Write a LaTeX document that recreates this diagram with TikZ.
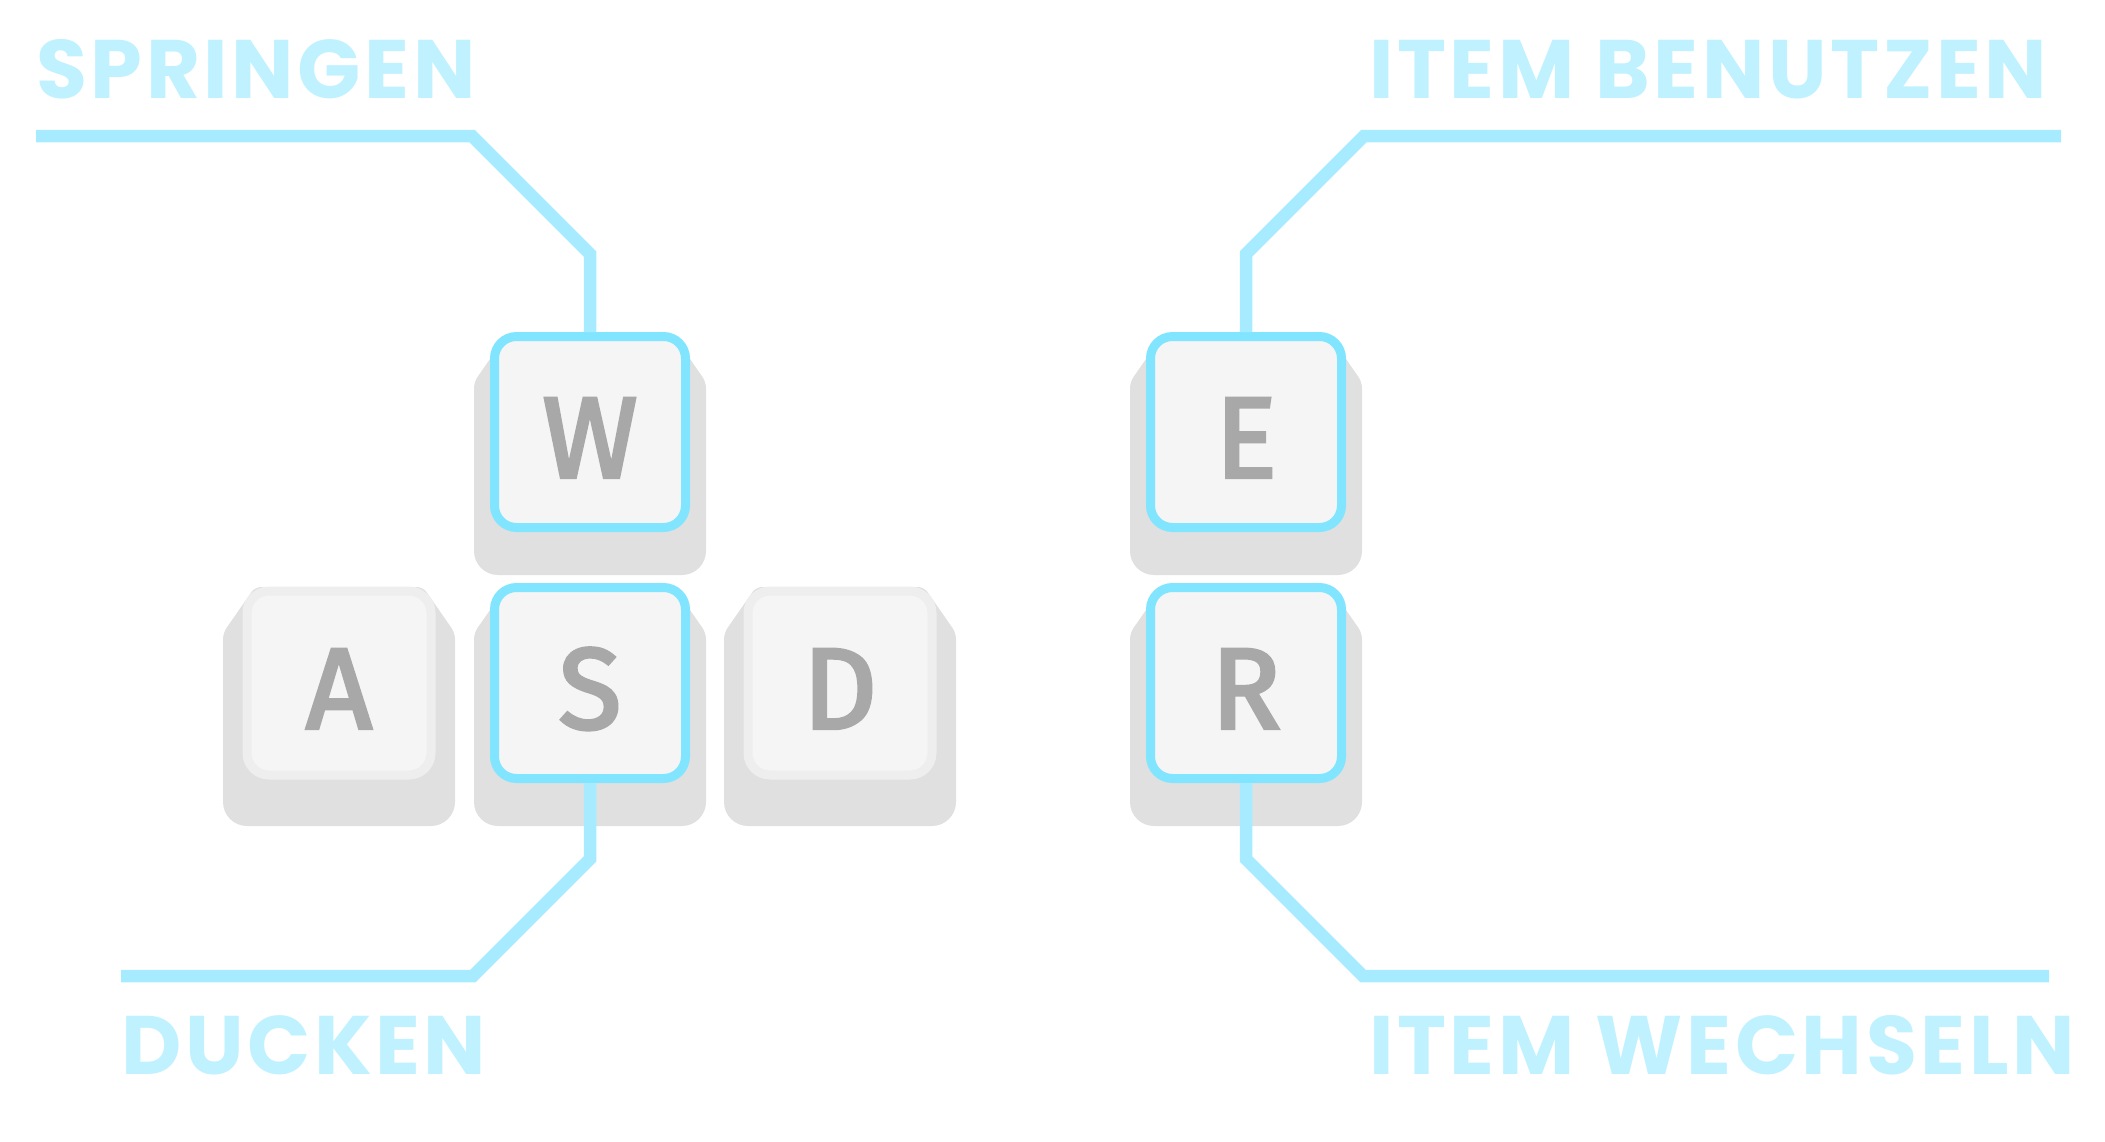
\documentclass[tikz,border=0pt]{standalone}
\usepackage{fontspec}
\setmainfont{Fira Sans}
\newfontfamily\keyfont[FakeBold=3]{Fira Sans}
\newfontfamily\labelfont[LetterSpace=4.3]{Poppins}
\usetikzlibrary{backgrounds}
\definecolor{keyblue}{HTML}{82E5FF}
\definecolor{lineblue}{HTML}{A6EBFF}
\definecolor{labelblue}{HTML}{C0F1FF}
\definecolor{keyface}{HTML}{F5F5F5}
\definecolor{keyrim}{HTML}{EEEEEE}
\definecolor{keybase}{HTML}{E0E0E0}
\definecolor{keyletter}{HTML}{A8A8A8}
\begin{document}
\begin{tikzpicture}[x=1pt,y=-1pt,
  key/.style={rectangle, rounded corners=22pt, minimum size=184pt, inner sep=0pt,
    fill=keyface, draw=keyrim, line width=9pt, text=keyletter,
    text height=91pt, text depth=0pt,
    font=\keyfont\fontsize{115}{115}\selectfont},
  hotkey/.style={key, minimum size=191pt, draw=keyblue},
  conn/.style={draw=lineblue, line width=12.5pt},
  action/.style={anchor=base west, inner sep=0pt, text=labelblue,
    font={\labelfont\bfseries\fontsize{83}{83}\selectfont}}]
\useasboundingbox (0,0) rectangle (2105,1141);

% keys
\node[hotkey] (keyW) at (590,432) {W};
\node[key] (keyA) at (339,683) {A};
\node[hotkey] (keyS) at (590,683) {S};
\node[key] (keyD) at (840,683) {D};
\node[hotkey] (keyE) at (1246,432) {E};
\node[hotkey] (keyR) at (1246,683) {R};

% key bodies
\begin{scope}[on background layer]
\foreach \k in {keyW,keyA,keyS,keyD,keyE,keyR}
  \fill[keybase, shift={(\k.center)}] [rounded corners=6pt] (-116,-50) -- (-84,-96)
    -- (84,-96) -- (116,-50)
    [rounded corners=24pt] -- (116,143) -- (-116,143)
    [rounded corners=6pt] -- cycle;
\end{scope}

% actions
\node[action] (springen) at (36,98) {SPRINGEN};
\node[action] (benutzen) at (1369,98) {ITEM BENUTZEN};
\node[action] (ducken) at (121,1074) {DUCKEN};
\node[action] (wechseln) at (1369,1074) {ITEM WECHSELN};

\coordinate (springenEnd) at (36,136);
\coordinate (benutzenEnd) at (2061,136);
\coordinate (duckenEnd) at (121,976);
\coordinate (wechselnEnd) at (2049,976);

\draw[conn] (keyW.north) -- ++(0,-78) -- ++(-118,-118) -- (springenEnd);
\draw[conn] (keyE.north) -- ++(0,-78) -- ++(118,-118) -- (benutzenEnd);
\draw[conn] (keyS.south) -- ++(0,76) -- ++(-117,117) -- (duckenEnd);
\draw[conn] (keyR.south) -- ++(0,76) -- ++(117,117) -- (wechselnEnd);
\end{tikzpicture}
\end{document}
